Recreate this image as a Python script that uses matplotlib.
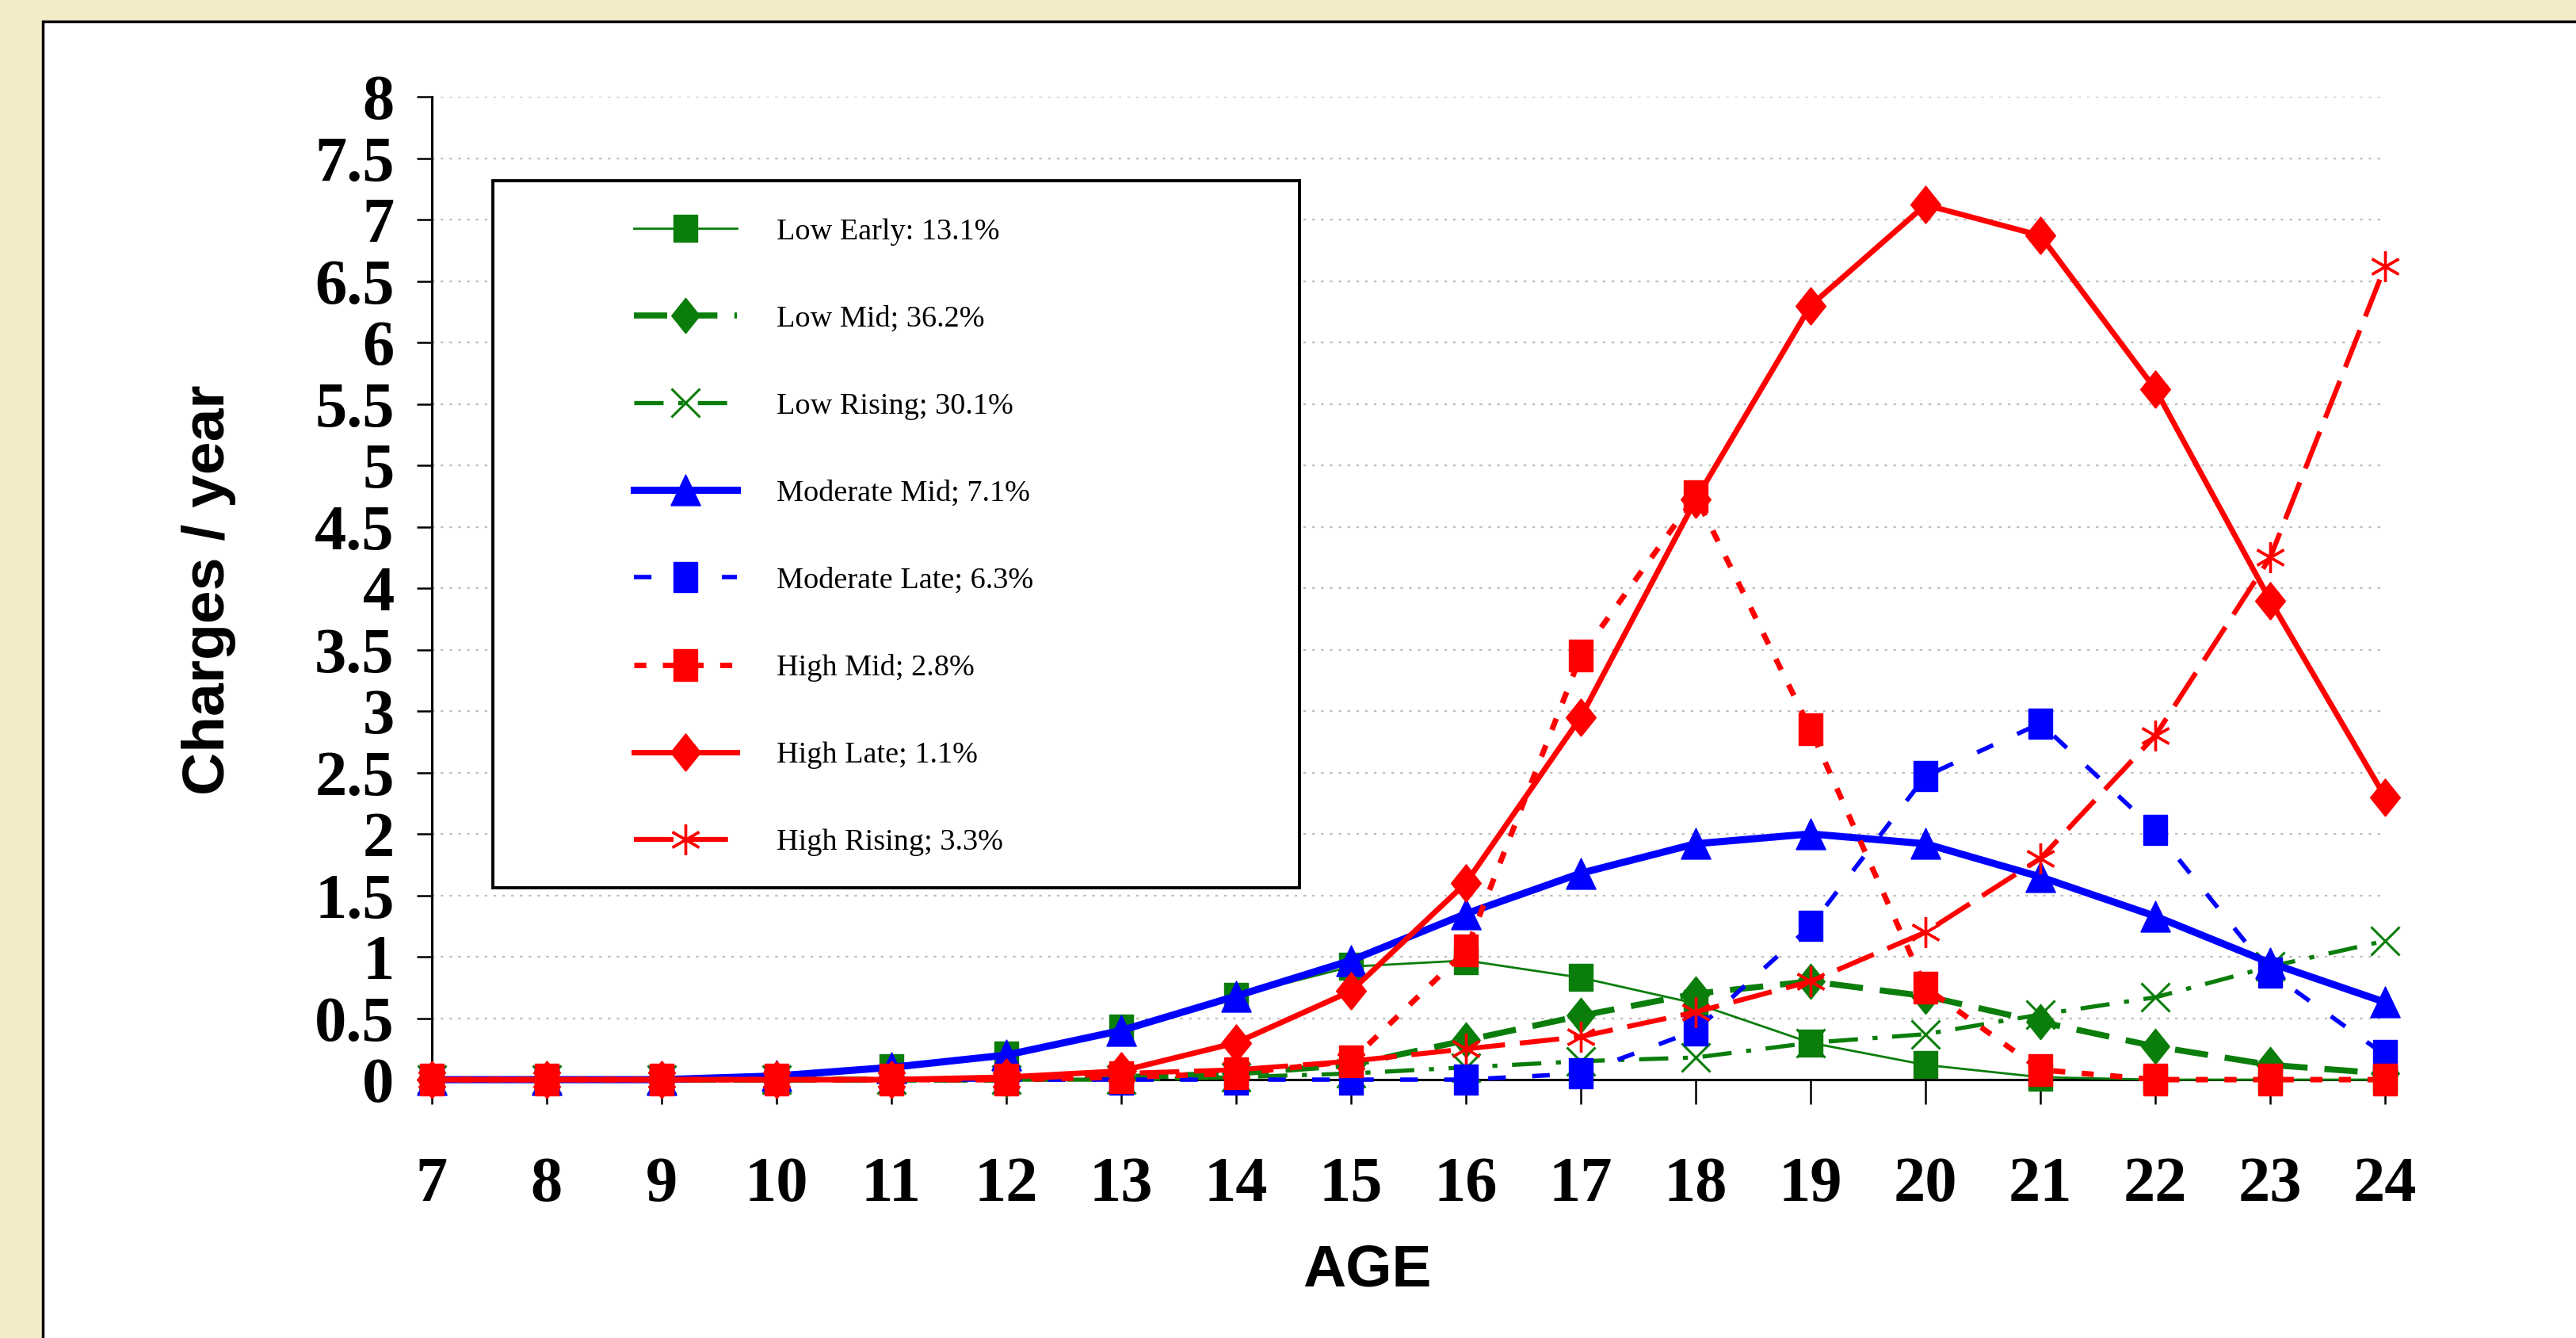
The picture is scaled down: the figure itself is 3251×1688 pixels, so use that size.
import numpy as np
import matplotlib
matplotlib.use("Agg")
import matplotlib.pyplot as plt
from matplotlib.patches import Rectangle

# ages on the x axis
ages = list(range(7, 25))

# charges per year for each trajectory group
low_early = [0, 0, 0, 0, 0.1, 0.2, 0.42, 0.68, 0.92, 0.97, 0.83, 0.62, 0.3, 0.12, 0.02, 0, 0, 0]
low_mid = [0, 0, 0, 0, 0, 0, 0.02, 0.05, 0.12, 0.32, 0.52, 0.7, 0.8, 0.68, 0.47, 0.27, 0.12, 0.05]
low_rising = [0, 0, 0, 0, 0, 0, 0, 0.02, 0.05, 0.1, 0.15, 0.18, 0.3, 0.37, 0.53, 0.67, 0.92, 1.13]
moderate_mid = [0, 0, 0, 0.03, 0.1, 0.2, 0.4, 0.68, 0.97, 1.35, 1.68, 1.92, 2.0, 1.92, 1.65, 1.33, 0.95, 0.63]
moderate_late = [0, 0, 0, 0, 0, 0, 0, 0, 0, 0, 0.05, 0.4, 1.25, 2.47, 2.9, 2.03, 0.87, 0.2]
high_mid = [0, 0, 0, 0, 0, 0, 0.02, 0.05, 0.15, 1.05, 3.45, 4.75, 2.85, 0.75, 0.08, 0, 0, 0]
high_late = [0, 0, 0, 0, 0, 0.02, 0.07, 0.3, 0.72, 1.6, 2.95, 4.72, 6.3, 7.12, 6.87, 5.62, 3.9, 2.3]
high_rising = [0, 0, 0, 0, 0, 0, 0.05, 0.08, 0.15, 0.25, 0.35, 0.55, 0.8, 1.2, 1.8, 2.8, 4.25, 6.62]

labels = ["Low Early: 13.1%", "Low Mid; 36.2%", "Low Rising; 30.1%", "Moderate Mid; 7.1%",
          "Moderate Late; 6.3%", "High Mid; 2.8%", "High Late; 1.1%", "High Rising; 3.3%"]

yticks = np.arange(0, 8.5, 0.5)

green = "#0b7d0b"
blue = "#0000ff"
red = "#ff0000"

# marker shapes a bit taller than wide, like in the original
rect_tall = [(-0.38, -0.5), (0.38, -0.5), (0.38, 0.5), (-0.38, 0.5), (-0.38, -0.5)]
rect_sq = [(-0.45, -0.5), (0.45, -0.5), (0.45, 0.5), (-0.45, 0.5), (-0.45, -0.5)]
diamond = [(0, -0.5), (0.4, 0), (0, 0.5), (-0.4, 0), (0, -0.5)]
triangle = [(-0.48, -0.5), (0.48, -0.5), (0, 0.5), (-0.48, -0.5)]

fig = plt.figure(figsize=(32.51, 16.88), dpi=100)
fig.patch.set_facecolor("#f3ecc9")

# white slide panel with black border, kept behind the axes
fig.patches.append(Rectangle((54 / 3251, -0.2), 1.2, 0.2 + 1 - 27 / 1688, transform=fig.transFigure,
                             facecolor="white", edgecolor="black", lw=2.5, zorder=-1))

ax = fig.add_axes([0.1676, 0.1931, 0.9259 - 0.1676, 0.9277 - 0.1931])
ax.set_facecolor("none")
ax.set_zorder(1)

styles = [
    (low_early, dict(color=green, lw=2, ls="-", marker=rect_sq, ms=24)),
    (low_mid, dict(color=green, lw=5.5, ls=(0, (5.5, 2.8)), marker=diamond, ms=32)),
    (low_rising, dict(color=green, lw=3.8, ls=(0, (7, 3.5, 1.2, 3.5)), marker="x", ms=26, mew=2.2)),
    (moderate_mid, dict(color=blue, lw=6.5, ls="-", marker=triangle, ms=28)),
    (moderate_late, dict(color=blue, lw=4, ls=(0, (4, 6)), marker=rect_tall, ms=28)),
    (high_mid, dict(color=red, lw=5, ls=(0, (2.2, 3)), marker=rect_tall, ms=29)),
    (high_late, dict(color=red, lw=5, ls="-", marker=diamond, ms=34)),
    (high_rising, dict(color=red, lw=4.5, ls=(0, (8, 3)), marker=(6, 2, 0), ms=28, mew=2.4)),
]

handles = []
for (vals, st), lab in zip(styles, labels):
    h, = ax.plot(ages, vals, label=lab, clip_on=False, zorder=3, **st)
    handles.append(h)

ax.set_xlim(7, 24)
ax.set_ylim(0, 8)
ax.set_xticks(ages)
ax.set_yticks(yticks)
ax.set_yticklabels([f"{v:g}" for v in yticks])

for lab in ax.get_xticklabels() + ax.get_yticklabels():
    lab.set_fontfamily("Liberation Serif")
    lab.set_fontweight("bold")
    lab.set_fontsize(58)

ax.tick_params(axis="x", direction="out", length=22, width=1.8, pad=48)
ax.tick_params(axis="y", direction="out", length=14, width=1.8, pad=20)

ax.yaxis.grid(True, color="#bdbdbd", ls=(0, (1.5, 3.5)), lw=1.6)
ax.set_axisbelow(True)
for side in ["top", "right"]:
    ax.spines[side].set_visible(False)
ax.spines["left"].set_linewidth(2.2)
ax.spines["bottom"].set_linewidth(2.2)

fig.text(263 / 3251, 1 - 744 / 1688, "Charges / year", rotation=90, ha="center", va="center",
         fontsize=54, fontweight="bold", family="Liberation Sans")
fig.text(1725 / 3251, 1 - 1603 / 1688, "AGE", ha="center", va="center",
         fontsize=54, fontweight="bold", family="Liberation Sans")

# legend box
box = Rectangle((622 / 3251, 1 - 1120 / 1688), (1640 - 622) / 3251, (1120 - 228) / 1688,
                transform=fig.transFigure, facecolor="white", edgecolor="black", lw=2.8,
                zorder=8, clip_on=False)
ax.add_patch(box)

leg = ax.legend(handles=handles, loc="upper left", bbox_to_anchor=(781 / 3251, 1 - 256 / 1688),
                bbox_transform=fig.transFigure, frameon=False, numpoints=1,
                prop={"family": "Liberation Serif", "size": 27.5},
                handlelength=3.4, handletextpad=1.3, labelspacing=1.97, borderpad=0)
leg.set_zorder(9)

fig.savefig("out.png", dpi=100, facecolor=fig.get_facecolor())
